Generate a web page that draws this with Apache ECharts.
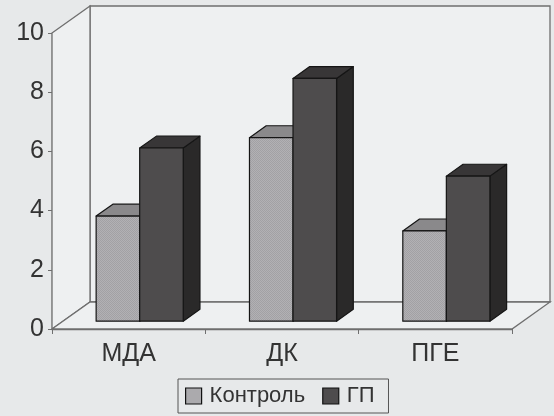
<!DOCTYPE html>
<html>
<head>
<meta charset="utf-8">
<script src="https://cdn.jsdelivr.net/npm/echarts@6/dist/echarts.min.js"></script>
<style>
html,body{margin:0;padding:0;background:#e7e9ea;}
#chart{width:554px;height:416px;}
</style>
</head>
<body>
<div id="chart"></div>
<script>
const categories = ['МДА', 'ДК', 'ПГЕ'];
const seriesNames = ['Контроль', 'ГП'];
const controlValues = [3.55, 6.2, 3.05];
const gpValues = [5.85, 8.2, 4.9];
const yTicks = [0, 2, 4, 6, 8, 10];

const DX = 38, DY = -27;     // 3D depth offset in pixels
const F0 = 0.29, F1 = 0.73;  // bar depth range (fraction of depth)
const BAR_RATIO = 0.284;     // bar width relative to category band

// subtle dotted texture for the light bars
const tex = document.createElement('canvas');
tex.width = 2; tex.height = 2;
(function () {
  const g = tex.getContext('2d');
  g.fillStyle = '#b2b1b4'; g.fillRect(0, 0, 2, 2);
  g.fillStyle = '#a2a1a4'; g.fillRect(0, 0, 1, 1); g.fillRect(1, 1, 1, 1);
})();

const palette = [
  { front: { image: tex, repeat: 'repeat' }, legend: '#abaaad', top: '#8a898b', side: '#6e6d70' },
  { front: '#4e4c4d', legend: '#4e4c4d', top: '#383637', side: '#2a2929' }
];

function barRenderer(sIdx) {
  const c = palette[sIdx];
  return function (params, api) {
    const idx = api.value(0), v = api.value(1);
    const base = api.coord([idx, 0]);
    const top = api.coord([idx, v]);
    const band = api.size([1, 0])[0];
    const w = band * BAR_RATIO;
    const x0 = base[0] + (sIdx === 0 ? -w : 0) + F0 * DX;
    const x1 = x0 + w;
    const yb = base[1] + F0 * DY, yt = top[1] + F0 * DY;
    const ddx = (F1 - F0) * DX, ddy = (F1 - F0) * DY;
    const stroke = { stroke: '#151515', lineWidth: 1.2, lineJoin: 'round' };
    return {
      type: 'group',
      children: [
        { type: 'polygon', shape: { points: [[x1, yb], [x1 + ddx, yb + ddy], [x1 + ddx, yt + ddy], [x1, yt]] },
          style: Object.assign({ fill: c.side }, stroke) },
        { type: 'polygon', shape: { points: [[x0, yt], [x0 + ddx, yt + ddy], [x1 + ddx, yt + ddy], [x1, yt]] },
          style: Object.assign({ fill: c.top }, stroke) },
        { type: 'rect', shape: { x: x0, y: yt, width: w, height: yb - yt },
          style: Object.assign({ fill: c.front }, stroke) }
      ]
    };
  };
}

function wallRenderer(params) {
  const cs = params.coordSys;
  const x = cs.x, y = cs.y, w = cs.width, h = cs.height;
  const st = { fill: '#eef0f1', stroke: '#6f6f6f', lineWidth: 1.3 };
  return {
    type: 'group',
    children: [
      { type: 'polygon', shape: { points: [[x + DX, y + DY], [x + w + DX, y + DY], [x + w + DX, y + h + DY], [x + DX, y + h + DY]] }, style: st },
      { type: 'polygon', shape: { points: [[x, y], [x + DX, y + DY], [x + DX, y + h + DY], [x, y + h]] }, style: st },
      { type: 'polygon', shape: { points: [[x, y + h], [x + DX, y + h + DY], [x + w + DX, y + h + DY], [x + w, y + h]] }, style: st }
    ]
  };
}

const chart = echarts.init(document.getElementById('chart'), null, { renderer: 'canvas' });
chart.setOption({
  backgroundColor: '#e7e9ea',
  animation: false,
  textStyle: { fontFamily: 'Liberation Sans, Arial, sans-serif' },
  grid: { left: 52, right: 42, top: 33, bottom: 87, containLabel: false },
  legend: {
    data: seriesNames,
    left: 178, top: 379,
    padding: [6, 14, 6, 7],
    itemGap: 17,
    itemWidth: 16, itemHeight: 16,
    icon: 'rect',
    borderColor: '#555',
    borderWidth: 1,
    itemStyle: { borderColor: '#111', borderWidth: 1.2 },
    textStyle: { fontSize: 22, color: '#333', fontFamily: 'Liberation Sans, Arial, sans-serif', padding: [0, 0, 0, 3] }
  },
  xAxis: {
    type: 'category',
    data: categories,
    axisLine: { show: true, lineStyle: { color: '#6f6f6f', width: 1.3 } },
    axisTick: { show: true, length: 5, lineStyle: { color: '#6f6f6f' } },
    axisLabel: { fontSize: 25, color: '#333', margin: 13 },
    splitLine: { show: false }
  },
  yAxis: {
    type: 'value',
    min: yTicks[0], max: yTicks[yTicks.length - 1], interval: 2,
    axisLine: { show: true, lineStyle: { color: '#6f6f6f', width: 1.3 } },
    axisTick: { show: true, length: 4, lineStyle: { color: '#6f6f6f' } },
    axisLabel: { fontSize: 25, color: '#333', margin: 8 },
    splitLine: { show: false }
  },
  series: [
    { name: 'walls', type: 'custom', renderItem: wallRenderer, data: [[0, 0]], silent: true, z: 1 },
    { name: seriesNames[0], type: 'custom', renderItem: barRenderer(0),
      itemStyle: { color: palette[0].legend },
      data: categories.map((c, i) => [i, controlValues[i]]), z: 3 },
    { name: seriesNames[1], type: 'custom', renderItem: barRenderer(1),
      itemStyle: { color: palette[1].legend },
      data: categories.map((c, i) => [i, gpValues[i]]), z: 4 }
  ]
});
</script>
</body>
</html>
